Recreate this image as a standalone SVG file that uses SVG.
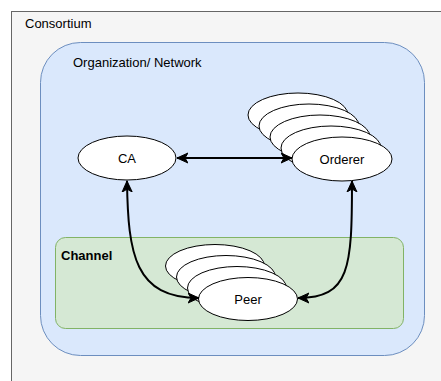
<svg xmlns="http://www.w3.org/2000/svg" width="441" height="381" viewBox="0 0 441 381">
<style>
.lbl{font-family:"Liberation Sans",Arial,Helvetica,sans-serif;font-size:13px;fill:#000}
.el{fill:#fff;stroke:#000;stroke-width:1}
.conn{fill:none;stroke:#000;stroke-width:2;marker-start:url(#arr);marker-end:url(#arr)}
</style>
<defs>
<marker id="arr" markerUnits="userSpaceOnUse" viewBox="0 0 12 12" refX="11" refY="6" markerWidth="12" markerHeight="12" orient="auto-start-reverse">
<path d="M0,1 L11,6 L0,11 L3,6 z" fill="#000" stroke="#000" stroke-width="1"/>
</marker>
</defs>
<rect width="441" height="381" fill="#fff"/>
<g id="consortium">
<rect x="11.5" y="11.5" width="440" height="380" fill="#f5f5f5" stroke="#666"/>
<text class="lbl" x="25" y="28">Consortium</text>
</g>
<g id="organization">
<rect x="40.5" y="42.5" width="384" height="313" rx="40" ry="40" fill="#dae8fc" stroke="#6c8ebf"/>
<text class="lbl" x="73" y="66.5">Organization/ Network</text>
</g>
<g id="channel">
<rect x="55.5" y="237.5" width="348" height="91" rx="10" ry="10" fill="#d5e8d4" stroke="#82b366"/>
<text class="lbl" x="61" y="260" font-weight="bold">Channel</text>
</g>
<g id="ca">
<ellipse class="el" cx="127" cy="158" rx="49" ry="22"/>
<text class="lbl" x="127" y="162.5" text-anchor="middle">CA</text>
</g>
<g id="orderer">
<ellipse class="el" cx="298" cy="115" rx="50" ry="22"/>
<ellipse class="el" cx="309" cy="126" rx="50" ry="22"/>
<ellipse class="el" cx="320" cy="137" rx="50" ry="22"/>
<ellipse class="el" cx="331" cy="148" rx="50" ry="22"/>
<ellipse class="el" cx="342" cy="159" rx="50" ry="22"/>
<text class="lbl" x="342" y="163.5" text-anchor="middle">Orderer</text>
</g>
<g id="peer">
<ellipse class="el" cx="215" cy="266" rx="49.5" ry="21.5"/>
<ellipse class="el" cx="226" cy="277" rx="49.5" ry="21.5"/>
<ellipse class="el" cx="237" cy="288" rx="49.5" ry="21.5"/>
<ellipse class="el" cx="248" cy="299" rx="49.5" ry="21.5"/>
<text class="lbl" x="248" y="303.5" text-anchor="middle">Peer</text>
</g>
<g id="connectors">
<path class="conn" d="M177,158 L292,158"/>
<path class="conn" d="M127,181 C128,255 135,298 199,298"/>
<path class="conn" d="M352,181 C352,268 350,298 298,298"/>
</g>
</svg>
